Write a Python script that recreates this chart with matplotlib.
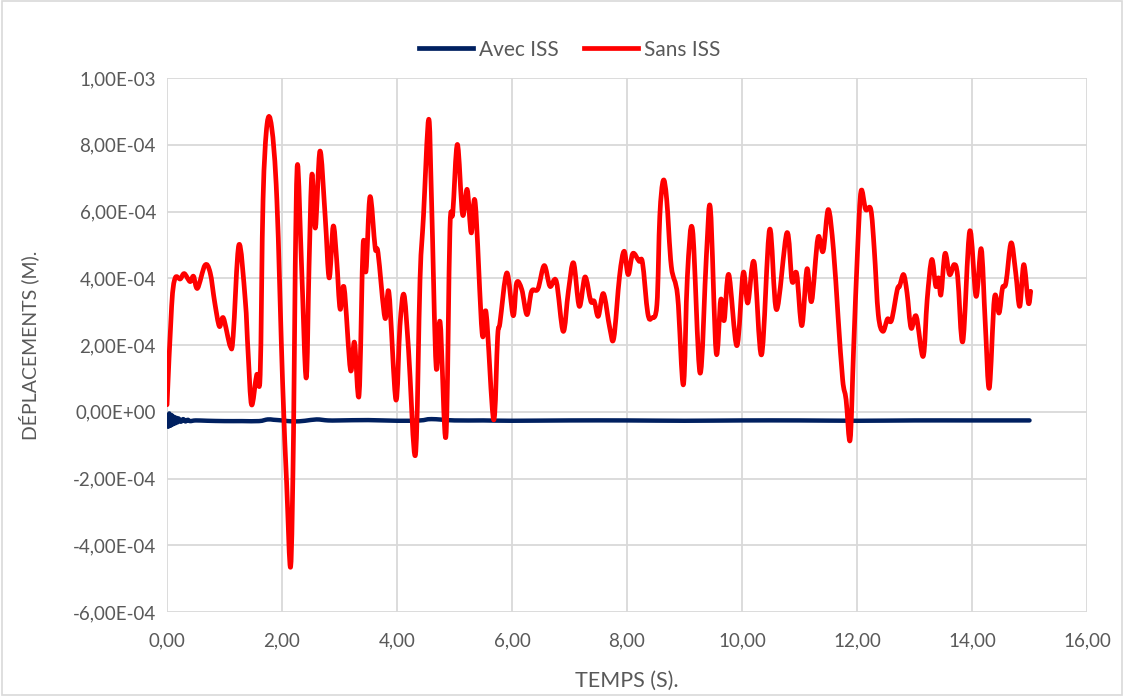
import matplotlib
matplotlib.use("Agg")
import matplotlib.pyplot as plt
from matplotlib.ticker import FuncFormatter, MultipleLocator
from matplotlib.patches import Rectangle, PathPatch
from matplotlib.path import Path
from matplotlib.lines import Line2D

plt.rcParams['font.family'] = ['Lato', 'DejaVu Sans']

# displacement time histories (s, m)
t_sans = [0.00, 0.08, 0.14, 0.23, 0.30, 0.40, 0.46, 0.53, 0.66, 0.75, 0.83, 0.91, 0.98,
          1.10, 1.15, 1.25, 1.36, 1.41, 1.47, 1.56, 1.62, 1.67, 1.74, 1.82, 1.91, 2.01,
          2.08, 2.15, 2.20, 2.23, 2.27, 2.34, 2.42, 2.47, 2.52, 2.58, 2.66, 2.75, 2.82,
          2.89, 2.95, 3.01, 3.08, 3.19, 3.26, 3.34, 3.41, 3.46, 3.53, 3.62, 3.67, 3.79,
          3.86, 3.98, 4.05, 4.12, 4.20, 4.32, 4.40, 4.46, 4.55, 4.60, 4.68, 4.75, 4.85,
          4.92, 4.97, 5.05, 5.14, 5.22, 5.29, 5.36, 5.48, 5.55, 5.68, 5.75, 5.79, 5.91,
          6.02, 6.08, 6.17, 6.26, 6.34, 6.45, 6.56, 6.66, 6.77, 6.89, 6.98, 7.07, 7.17,
          7.27, 7.37, 7.43, 7.50, 7.59, 7.70, 7.77, 7.87, 7.95, 8.02, 8.10, 8.21, 8.27,
          8.36, 8.43, 8.52, 8.57, 8.63, 8.69, 8.77, 8.88, 8.98, 9.05, 9.14, 9.27, 9.38,
          9.45, 9.55, 9.63, 9.69, 9.77, 9.91, 10.02, 10.10, 10.21, 10.34, 10.48, 10.60,
          10.78, 10.87, 10.95, 11.04, 11.13, 11.21, 11.32, 11.41, 11.50, 11.59, 11.67,
          11.75, 11.81, 11.88, 11.94, 12.01, 12.07, 12.15, 12.24, 12.30, 12.37, 12.45,
          12.53, 12.60, 12.70, 12.74, 12.81, 12.87, 12.94, 13.03, 13.15, 13.22, 13.30,
          13.37, 13.42, 13.46, 13.53, 13.61, 13.69, 13.75, 13.84, 13.96, 14.07, 14.16,
          14.23, 14.30, 14.39, 14.47, 14.53, 14.59, 14.68, 14.76, 14.83, 14.90, 14.98,
          15.02]
d_sans = [2.1e-5, 3.16e-4, 4.00e-4, 3.98e-4, 4.14e-4, 3.90e-4, 4.06e-4, 3.70e-4, 4.39e-4,
          4.17e-4, 3.27e-4, 2.56e-4, 2.81e-4, 1.96e-4, 2.26e-4, 5.00e-4, 3.36e-4, 1.77e-4,
          2.1e-5, 1.11e-4, 1.11e-4, 6.36e-4, 8.62e-4, 8.52e-4, 6.36e-4, 8.7e-5, -2.13e-4,
          -4.64e-4, -6.3e-5, 4.36e-4, 7.41e-4, 4.36e-4, 1.01e-4, 4.36e-4, 7.11e-4, 5.51e-4,
          7.81e-4, 5.86e-4, 4.01e-4, 5.56e-4, 4.56e-4, 3.08e-4, 3.71e-4, 1.26e-4, 2.08e-4,
          5.1e-5, 5.00e-4, 4.21e-4, 6.44e-4, 4.91e-4, 4.76e-4, 2.81e-4, 3.56e-4, 3.6e-5,
          2.56e-4, 3.51e-4, 1.86e-4, -1.29e-4, 3.96e-4, 5.86e-4, 8.76e-4, 6.36e-4, 1.36e-4,
          2.68e-4, -7.4e-5, 5.46e-4, 5.96e-4, 8.01e-4, 5.91e-4, 6.66e-4, 5.36e-4, 6.26e-4,
          2.36e-4, 2.96e-4, -2.4e-5, 2.26e-4, 2.66e-4, 4.16e-4, 2.88e-4, 3.86e-4, 3.66e-4,
          2.91e-4, 3.61e-4, 3.68e-4, 4.38e-4, 3.76e-4, 3.91e-4, 2.41e-4, 3.61e-4, 4.46e-4,
          3.16e-4, 4.04e-4, 3.31e-4, 3.31e-4, 2.86e-4, 3.54e-4, 2.51e-4, 2.21e-4, 4.06e-4,
          4.81e-4, 4.11e-4, 4.74e-4, 4.51e-4, 4.46e-4, 2.96e-4, 2.81e-4, 3.21e-4, 5.86e-4,
          6.93e-4, 6.36e-4, 4.36e-4, 3.46e-4, 8.1e-5, 4.06e-4, 5.44e-4, 1.16e-4, 4.66e-4,
          6.08e-4, 1.78e-4, 3.36e-4, 2.74e-4, 4.11e-4, 1.98e-4, 4.16e-4, 3.26e-4, 4.48e-4,
          1.71e-4, 5.46e-4, 3.06e-4, 5.36e-4, 3.91e-4, 4.14e-4, 2.58e-4, 4.28e-4, 3.31e-4,
          5.21e-4, 4.81e-4, 6.06e-4, 4.86e-4, 2.86e-4, 9.6e-5, 3.6e-5, -8.4e-5, 1.86e-4,
          4.86e-4, 6.61e-4, 6.06e-4, 6.06e-4, 4.86e-4, 2.91e-4, 2.41e-4, 2.78e-4, 2.74e-4,
          3.66e-4, 3.76e-4, 4.11e-4, 3.56e-4, 2.51e-4, 2.86e-4, 1.66e-4, 3.36e-4, 4.56e-4,
          3.76e-4, 4.01e-4, 3.51e-4, 4.74e-4, 4.11e-4, 4.41e-4, 4.06e-4, 2.11e-4, 5.41e-4,
          3.46e-4, 4.88e-4, 2.66e-4, 7.1e-5, 3.41e-4, 2.96e-4, 3.71e-4, 3.86e-4, 5.06e-4,
          4.16e-4, 3.16e-4, 4.41e-4, 3.26e-4, 3.61e-4]

t_avec = [0.00, 0.02, 0.04, 0.06, 0.08, 0.10, 0.12, 0.14, 0.16, 0.18, 0.20, 0.24, 0.28,
          0.32, 0.36, 0.40, 0.50, 0.70, 1.00, 1.30, 1.60, 1.75, 1.85, 2.00, 2.20, 2.40,
          2.60, 2.80, 3.00, 3.50, 4.00, 4.40, 4.60, 5.00, 5.50, 6.00, 7.00, 8.00, 9.00,
          10.0, 11.0, 12.0, 13.0, 14.0, 15.0]
d_avec = [-1.0e-5, -4.5e-5, -0.5e-5, -4.2e-5, -1.0e-5, -3.8e-5, -1.5e-5, -3.5e-5,
          -1.8e-5, -3.2e-5, -2.0e-5, -3.0e-5, -2.2e-5, -2.9e-5, -2.4e-5, -2.8e-5,
          -2.6e-5, -2.7e-5, -2.8e-5, -2.8e-5, -2.8e-5, -2.3e-5, -2.4e-5, -2.6e-5,
          -2.9e-5, -2.7e-5, -2.3e-5, -2.6e-5, -2.6e-5, -2.5e-5, -2.7e-5, -2.6e-5,
          -2.2e-5, -2.6e-5, -2.6e-5, -2.7e-5, -2.6e-5, -2.6e-5, -2.7e-5, -2.6e-5,
          -2.6e-5, -2.7e-5, -2.6e-5, -2.6e-5, -2.6e-5]

series_labels = ["Avec ISS", "Sans ISS"]
series_colors = ["#002060", "#FF0000"]
text_color = '#595959'


def smooth_path(x, y):
    # Catmull-Rom style cubic Bezier through every point (smoothed line)
    verts = [(x[0], y[0])]
    codes = [Path.MOVETO]
    n = len(x)
    for i in range(n - 1):
        x0, y0 = (x[i - 1], y[i - 1]) if i > 0 else (x[i], y[i])
        x3, y3 = (x[i + 2], y[i + 2]) if i + 2 < n else (x[i + 1], y[i + 1])
        c1 = (x[i] + (x[i + 1] - x0) / 6, y[i] + (y[i + 1] - y0) / 6)
        c2 = (x[i + 1] - (x3 - x[i]) / 6, y[i + 1] - (y3 - y[i]) / 6)
        verts += [c1, c2, (x[i + 1], y[i + 1])]
        codes += [Path.CURVE4] * 3
    return Path(verts, codes)


fig = plt.figure(figsize=(11.24, 6.96), dpi=100)
ax = fig.add_axes([0.1486, 0.1207, 0.8185, 0.7672])

for (tx, dy, col, lw) in [(t_avec, d_avec, series_colors[0], 3.2),
                          (t_sans, d_sans, series_colors[1], 3.4)]:
    ax.add_patch(PathPatch(smooth_path(tx, dy), facecolor='none', edgecolor=col,
                           lw=lw, capstyle='round', joinstyle='round'))

ax.set_xlim(0, 16)
ax.set_ylim(-6e-4, 1e-3)
ax.xaxis.set_major_locator(MultipleLocator(2))
ax.yaxis.set_major_locator(MultipleLocator(2e-4))
ax.xaxis.set_major_formatter(FuncFormatter(lambda v, p: f"{v:.2f}".replace('.', ',')))
ax.yaxis.set_major_formatter(FuncFormatter(
    lambda v, p: f"{0.0 if abs(v) < 1e-12 else v:.2E}".replace('.', ',')))

ax.grid(True, color='#d9d9d9', lw=1.3)
ax.set_axisbelow(True)
for s in ax.spines.values():
    s.set_visible(False)
ax.tick_params(length=0, labelsize=13.5, colors=text_color)
ax.tick_params(axis='x', pad=15)
ax.tick_params(axis='y', pad=8)

ax.set_xlabel("TEMPS (S).", fontsize=15.5, color=text_color, labelpad=15)
ax.set_ylabel("DÉPLACEMENTS (M).", fontsize=14, color=text_color, labelpad=24)

handles = [Line2D([], [], color=c, lw=3.4) for c in series_colors]
fig.legend(handles, series_labels, loc='upper center', bbox_to_anchor=(0.507, 0.97),
           ncol=2, frameon=False, fontsize=15, handlelength=2.6, columnspacing=1.2,
           handletextpad=0.3, labelcolor=text_color)

fig.patches.append(Rectangle((0.002, 0.002), 0.996, 0.996, transform=fig.transFigure,
                             fill=False, edgecolor='#d9d9d9', lw=1.2))

fig.savefig("out.png", dpi=100)
